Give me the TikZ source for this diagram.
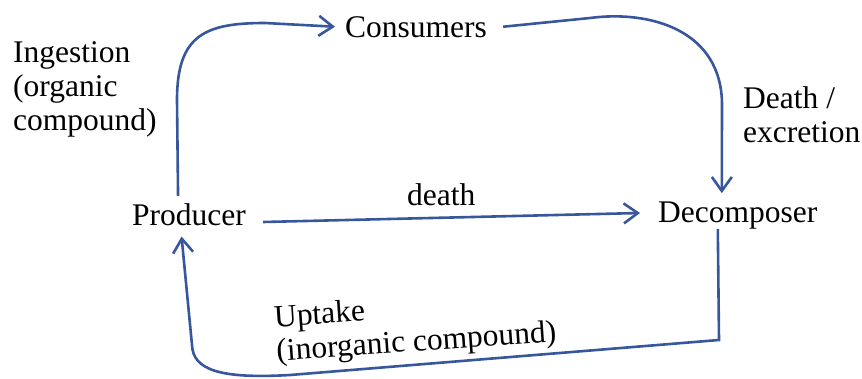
\documentclass[tikz,border=0pt]{standalone}
\usepackage{fontspec}
\setmainfont{Liberation Serif}
\usetikzlibrary{arrows.meta}
\definecolor{flow}{RGB}{55,86,155}
\begin{document}
\begin{tikzpicture}[x=1pt,y=-1pt,
  lbl/.style={inner sep=0pt,anchor=base west,align=left,
    font=\fontsize{31.5}{34}\selectfont},
  flowline/.style={draw=flow,line width=2.6pt,
    -{Straight Barb[length=14pt,width=20pt,line width=2.6pt]}}]
\useasboundingbox (0,0) rectangle (862,378);
\node[lbl] (prod) at (132,225) {Producer};
\node[lbl] (cons) at (345,37) {Consumers};
\node[lbl] (decomp) at (658,222) {Decomposer};
\node[lbl] (death) at (407,205) {death};
\node[lbl] (ingest) at (13,130) {Ingestion\\(organic\\compound)};
\node[lbl] (excr) at (743,142) {Death /\\excretion};
\node[lbl,rotate=4] (uptake) at (277,361) {Uptake\\(inorganic compound)};
% Producer -> Consumers
\draw[flowline] ([shift={(-11pt,7pt)}]prod.north) -- (177,100)
  .. controls (177,35) and (205,23) .. (265,23) -- ([xshift=-10pt]cons.west);
% Consumers -> Decomposer
\draw[flowline] ([xshift=16pt]cons.east) -- (590,18)
  .. controls (650,10) and (722,30) .. (722,105) -- ([shift={(-16pt,8pt)}]decomp.north);
% Producer -> Decomposer
\draw[flowline] ([shift={(17pt,3pt)}]prod.base east) -- ([shift={(-18pt,9pt)}]decomp.base west);
% Decomposer -> Producer
\draw[flowline] ([xshift=-20pt]decomp.south) -- (719,340) -- (290,375)
  .. controls (220,379) and (193,370) .. (192,345) -- ([shift={(-7.5pt,-11pt)}]prod.south);
\end{tikzpicture}
\end{document}
